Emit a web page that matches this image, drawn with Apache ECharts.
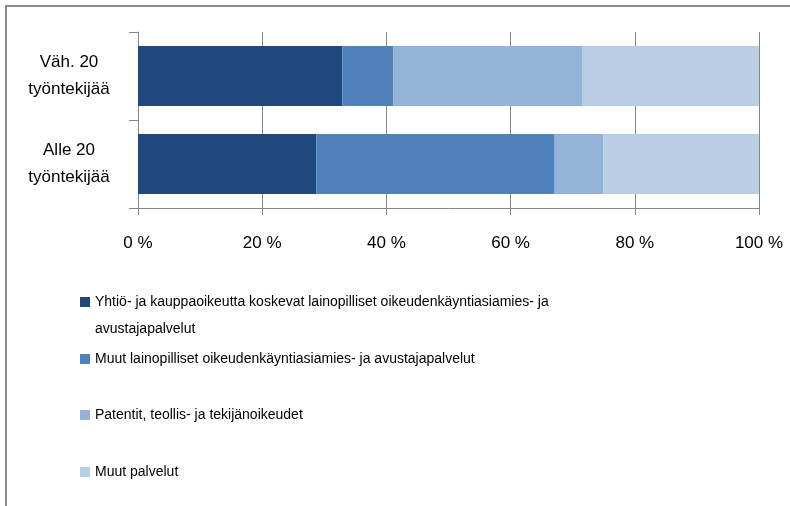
<!DOCTYPE html>
<html>
<head>
<meta charset="utf-8">
<script src="https://cdn.jsdelivr.net/npm/echarts@6/dist/echarts.min.js"></script>
<style>
  html, body { margin: 0; padding: 0; background: #fff; }
  #chart { width: 790px; height: 506px; }
</style>
</head>
<body>
<div id="chart"></div>
<script>
// kategoriat ylhäältä alas
const categories = ['Väh. 20\ntyöntekijää', 'Alle 20\ntyöntekijää']
const seriesNames = [
  'Yhtiö- ja kauppaoikeutta koskevat lainopilliset oikeudenkäyntiasiamies- ja avustajapalvelut',
  'Muut lainopilliset oikeudenkäyntiasiamies- ja avustajapalvelut',
  'Patentit, teollis- ja tekijänoikeudet',
  'Muut palvelut',
]
const yhtioJaKauppa = [32.9, 28.7]
const muutLainopilliset = [8.2, 38.4]
const patentit = [30.4, 7.8]
const muutPalvelut = [28.5, 25.1]
const xTicks = [0, 20, 40, 60, 80, 100]

const colors = ['#1f497d', '#4f81bd', '#95b3d7', '#b9cde5']
const values = [yhtioJaKauppa, muutLainopilliset, patentit, muutPalvelut]
const font = '"Liberation Sans", Arial, sans-serif'

const chart = echarts.init(document.getElementById('chart'))

// ensimmäinen selite on kaksirivinen: tyhjä rivi alkuun, jotta merkki osuu 1. riville
const legendTops = [256.5, 340.5, 396.5, 453.5]
const legends = seriesNames.map((name, i) => ({
  data: [name],
  orient: 'vertical',
  left: 75,
  top: legendTops[i],
  itemWidth: 10,
  itemHeight: 10,
  selectedMode: false,
  icon: 'rect',
  formatter: (n) => n === seriesNames[0]
    ? '\nYhtiö- ja kauppaoikeutta koskevat lainopilliset oikeudenkäyntiasiamies- ja\navustajapalvelut'
    : n,
  textStyle: {
    fontFamily: font,
    fontSize: 14,
    color: '#000',
    lineHeight: 27,
  },
}))

const option = {
  animation: false,
  backgroundColor: '#fff',
  graphic: [
    {
      type: 'rect',
      shape: { x: 6, y: 6, width: 800, height: 520 },
      style: { fill: 'none', stroke: '#8c8c8c', lineWidth: 2 },
      silent: true,
    },
  ],
  legend: legends,
  grid: { left: 138, right: 31, top: 32, bottom: 298 },
  xAxis: {
    type: 'value',
    min: 0,
    max: 100,
    interval: 20,
    axisLine: { show: true, lineStyle: { color: '#868686' } },
    axisTick: { show: true, length: 7, lineStyle: { color: '#868686' } },
    splitLine: { show: true, lineStyle: { color: '#868686' } },
    axisLabel: {
      margin: 27,
      fontFamily: font,
      fontSize: 17,
      color: '#000',
      formatter: (v) => xTicks.includes(v) ? v + ' %' : '',
    },
  },
  yAxis: {
    type: 'category',
    inverse: true,
    data: categories,
    axisLine: { show: true, lineStyle: { color: '#868686' } },
    axisTick: { show: true, length: 9, lineStyle: { color: '#868686' } },
    axisLabel: {
      align: 'center',
      margin: 69,
      fontFamily: font,
      fontSize: 17,
      lineHeight: 27,
      padding: [3, 0, 0, 0],
      color: '#000',
    },
  },
  series: seriesNames.map((name, i) => ({
    name,
    type: 'bar',
    stack: 'total',
    barWidth: 60,
    data: values[i],
    itemStyle: { color: colors[i] },
  })),
}

chart.setOption(option)
</script>
</body>
</html>
